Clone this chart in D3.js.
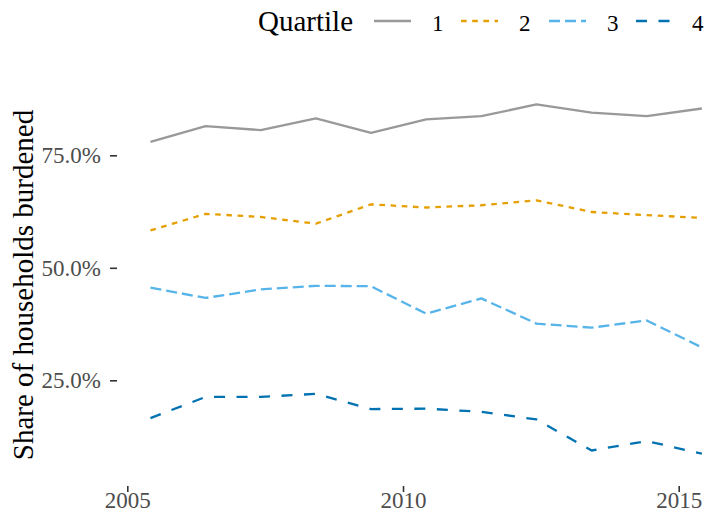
<!DOCTYPE html>
<html>
<head>
<meta charset="utf-8">
<script src="https://cdn.jsdelivr.net/npm/d3@7"></script>
<style>
  html, body { margin: 0; padding: 0; background: #fff; }
  svg { display: block; }
  text { font-family: "Liberation Serif", "DejaVu Serif", serif; }
</style>
</head>
<body>
<svg id="chart" width="706" height="512"></svg>
<script>
// ---- Data ----
const years = [2005.42, 2006.42, 2007.42, 2008.42, 2009.42, 2010.42, 2011.42, 2012.42, 2013.42, 2014.42, 2015.42];
const quartiles = ["1", "2", "3", "4"];
const q1 = [0.780, 0.815, 0.806, 0.832, 0.800, 0.830, 0.837, 0.863, 0.845, 0.837, 0.854];
const q2 = [0.583, 0.620, 0.613, 0.598, 0.641, 0.634, 0.639, 0.650, 0.624, 0.617, 0.611];
const q3 = [0.456, 0.433, 0.452, 0.460, 0.459, 0.398, 0.432, 0.376, 0.367, 0.383, 0.323];
const q4 = [0.166, 0.213, 0.213, 0.220, 0.186, 0.187, 0.180, 0.163, 0.094, 0.115, 0.087];
const xTicks = [2005, 2010, 2015];
const yTicks = [0.25, 0.50, 0.75];
const colors = ["#999999", "#E69F00", "#56B4E9", "#0072B2"];
const dashes = [null, "5.6,5.6", "11,5", "11,11.5"];
const legendTitle = "Quartile";
const yTitle = "Share of households burdened";

const seriesValues = [q1, q2, q3, q4];
const series = quartiles.map((q, i) => ({
  name: q,
  color: colors[i],
  dash: dashes[i],
  values: years.map((yr, j) => ({ x: yr, y: seriesValues[i][j] }))
}));

// ---- Scales ----
const svg = d3.select("#chart");
const W = 706, H = 512;
const x = d3.scaleLinear().domain([2005, 2015]).range([127.3, 678.7]);
const y = d3.scaleLinear().domain([0, 1]).range([492.8, 42.8]);

svg.append("defs").append("clipPath").attr("id", "panel")
  .append("rect").attr("x", 110).attr("y", 50).attr("width", W - 110).attr("height", 440);

// ---- Axes ----
const xAxis = d3.axisBottom(x).tickValues(xTicks).tickFormat(d3.format("d")).tickSize(6).tickPadding(0);
const gx = svg.append("g").attr("transform", "translate(0,486)").call(xAxis);
gx.select(".domain").remove();
gx.selectAll(".tick line").attr("stroke", "#333333").attr("stroke-width", 1.6);
gx.selectAll(".tick text").attr("fill", "#4D4D4D").attr("font-size", 23)
  .attr("font-family", "Liberation Serif");

const yAxis = d3.axisLeft(y).tickValues(yTicks).tickFormat(d3.format(".1%")).tickSize(7).tickPadding(9);
const gy = svg.append("g").attr("transform", "translate(117,0)").call(yAxis);
gy.select(".domain").remove();
gy.selectAll(".tick line").attr("stroke", "#333333").attr("stroke-width", 1.6);
gy.selectAll(".tick text").attr("fill", "#4D4D4D").attr("font-size", 23)
  .attr("font-family", "Liberation Serif");

// y title
svg.append("text")
  .attr("transform", "translate(33,285) rotate(-90)")
  .attr("text-anchor", "middle")
  .attr("font-size", 29)
  .attr("fill", "#000")
  .text(yTitle);

// ---- Lines ----
const line = d3.line().x(d => x(d.x)).y(d => y(d.y));
svg.append("g").attr("clip-path", "url(#panel)")
  .selectAll("path").data(series).join("path")
  .attr("d", d => line(d.values))
  .attr("fill", "none")
  .attr("stroke", d => d.color)
  .attr("stroke-width", 2.3)
  .attr("stroke-dasharray", d => d.dash)
  .attr("stroke-linejoin", "round");

// ---- Legend ----
const lg = svg.append("g");
lg.append("text").attr("x", 258).attr("y", 31).attr("font-size", 29).attr("fill", "#000").text(legendTitle);
const keyX = [374, 461, 549, 636];
const labX = [432, 519, 607, 692];
series.forEach((s, i) => {
  lg.append("line")
    .attr("x1", keyX[i]).attr("x2", keyX[i] + 37)
    .attr("y1", 21).attr("y2", 21)
    .attr("stroke", s.color).attr("stroke-width", 2.3)
    .attr("stroke-dasharray", s.dash);
  lg.append("text").attr("x", labX[i]).attr("y", 31).attr("font-size", 23)
    .attr("fill", "#000").text(s.name);
});
</script>
</body>
</html>
